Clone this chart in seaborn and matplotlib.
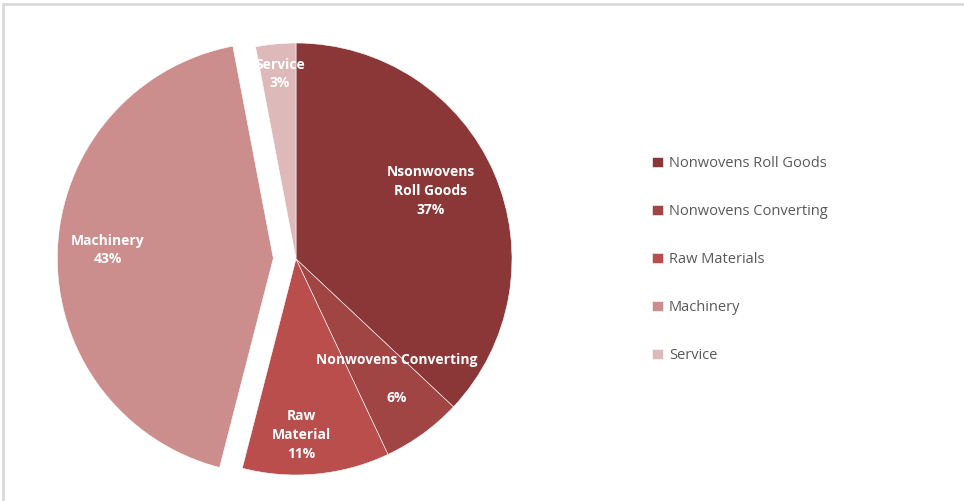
import seaborn as sns
import matplotlib.pyplot as plt
from matplotlib.lines import Line2D

categories = ['Nonwovens Roll Goods', 'Nonwovens Converting', 'Raw Materials', 'Machinery', 'Service']
shares = [37, 6, 11, 43, 3]
slice_labels = ['Nsonwovens\nRoll Goods\n37%', 'Nonwovens Converting\n\n6%', 'Raw\nMaterial\n11%',
                'Machinery\n43%', 'Service\n3%']
colors = ['#8C3737', '#A04444', '#B94E4D', '#CC8E8D', '#DDB9B9']

sns.set_theme(style="white")
plt.rcParams['font.family'] = ['Open Sans', 'DejaVu Sans']

fig = plt.figure(figsize=(9.64, 5.01), dpi=100)
ax = fig.add_axes([0, 0, 1, 1])
ax.set_xlim(0, 964)
ax.set_ylim(0, 501)
ax.set_aspect('equal')
ax.axis('off')

# pie centre / radius in pixel units of this axes; explode is absolute too
cx, cy, r = 296, 501 - 259, 216
wedges, _ = ax.pie(shares, colors=colors, startangle=90, counterclock=False,
                   explode=[0, 0, 0, 0.105 * r, 0], center=(cx, cy), radius=r,
                   wedgeprops=dict(edgecolor='white', linewidth=0.4))
ax.set_xlim(0, 964)
ax.set_ylim(0, 501)

label_pos = [(431, 191), (397, 379), (301, 435), (108, 250), (280, 74)]
for txt, (x, y) in zip(slice_labels, label_pos):
    ax.text(x, 501 - y, txt, ha='center', va='center', color='white',
            fontsize=10, fontweight='bold', linespacing=1.45)

# frame lines (top and left only)
ax.add_line(Line2D([3, 964], [497, 497], color='#D9D9D9', lw=2))
ax.add_line(Line2D([3, 3], [0, 497], color='#D9D9D9', lw=2))

leg = ax.legend(wedges, categories, loc='center left', bbox_to_anchor=(0.663, 0.482),
                frameon=False, fontsize=10.5, labelspacing=2.26, handlelength=0.75,
                handleheight=0.75, handletextpad=0.4)
for t in leg.get_texts():
    t.set_color('#595959')

fig.savefig('out.png', dpi=100)
